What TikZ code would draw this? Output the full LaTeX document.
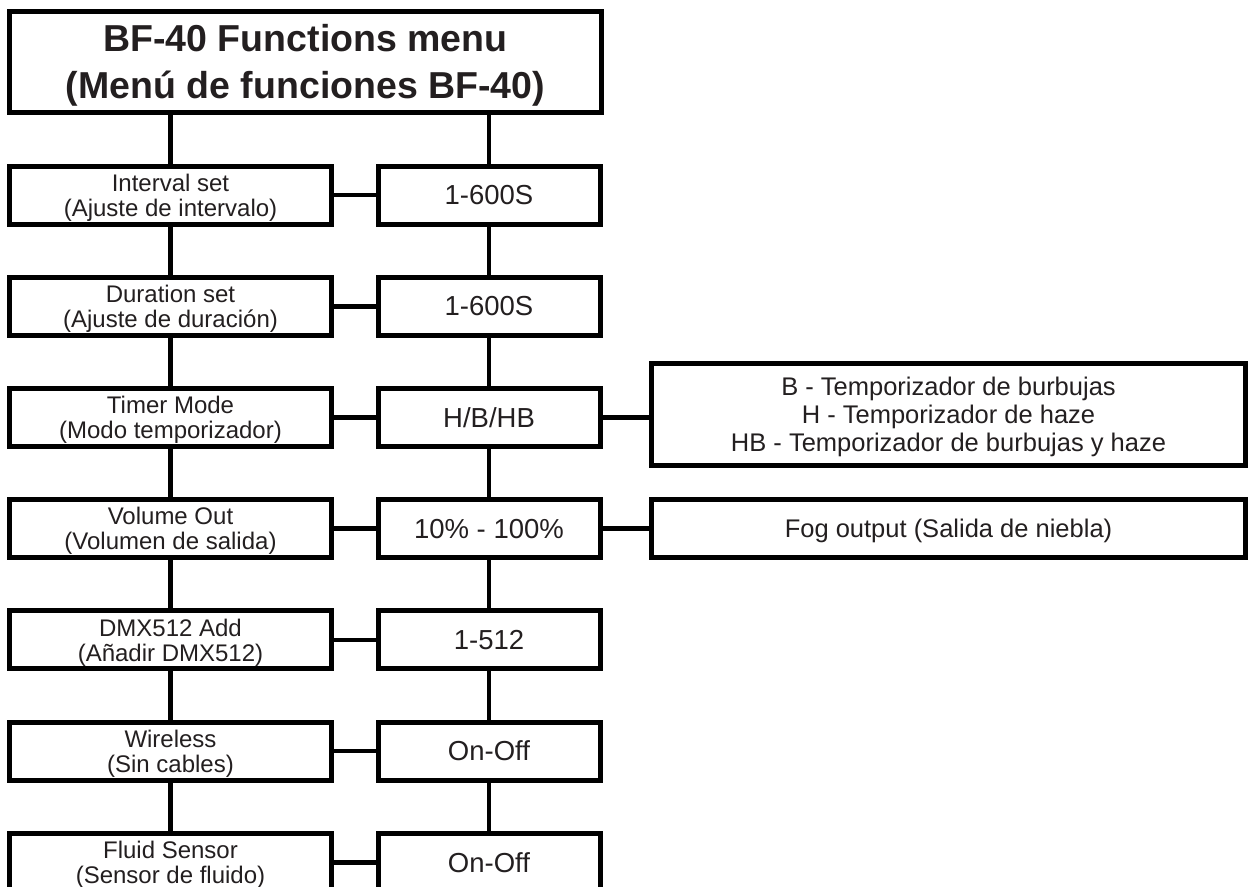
\documentclass[tikz,border=0pt]{standalone}
\usepackage{fontspec}
\setmainfont{Liberation Sans}
\definecolor{txt}{HTML}{231F20}
\begin{document}
\begin{tikzpicture}[x=1pt,y=-1pt,
  box/.style={draw=black,line width=5pt,fill=white,rectangle,inner sep=0pt,text=txt,align=center},
  titlebox/.style={box,minimum width=592pt,minimum height=101pt,text depth=2pt,font=\fontsize{37.5}{47}\selectfont\bfseries},
  leftbox/.style={box,minimum width=322pt,minimum height=58pt,text depth=-2pt,font=\fontsize{24}{25}\selectfont},
  rightbox/.style={box,minimum width=222pt,minimum height=58pt,text depth=0pt,font=\fontsize{27.5}{30}\selectfont},
  notebox/.style={box,minimum width=594pt,font=\fontsize{25.5}{28}\selectfont},
  conn/.style={draw=black,line width=4.6pt}]
\useasboundingbox (0,0) rectangle (1250,886);
\node[titlebox] (title) at (305.5,62) {BF-40 Functions menu\\(Menú de funciones BF-40)};
\node[leftbox] (l1) at (170.5,195) {Interval set\\(Ajuste de intervalo)};
\node[leftbox] (l2) at (170.5,306.2) {Duration set\\(Ajuste de duración)};
\node[leftbox] (l3) at (170.5,417.4) {Timer Mode\\(Modo temporizador)};
\node[leftbox] (l4) at (170.5,528.6) {Volume Out\\(Volumen de salida)};
\node[leftbox] (l5) at (170.5,639.8) {DMX512 Add\\(Añadir DMX512)};
\node[leftbox] (l6) at (170.5,751) {Wireless\\(Sin cables)};
\node[leftbox] (l7) at (170.5,862.2) {Fluid Sensor\\(Sensor de fluido)};
\node[rightbox] (r1) at (489,195) {1-600S};
\node[rightbox] (r2) at (489,306.2) {1-600S};
\node[rightbox] (r3) at (489,417.4) {H/B/HB};
\node[rightbox] (r4) at (489,528.6) {10\% - 100\%};
\node[rightbox] (r5) at (489,639.8) {1-512};
\node[rightbox] (r6) at (489,751) {On-Off};
\node[rightbox] (r7) at (489,862.2) {On-Off};
\node[notebox,minimum height=102pt,text depth=-2pt] (n3) at (948.5,414.5) {B - Temporizador de burbujas\\H - Temporizador de haze\\HB - Temporizador de burbujas y haze};
\node[notebox,minimum height=58pt,text depth=0pt] (n4) at (948.5,528.6) {Fog output (Salida de niebla)};
\draw[conn] (title.south -| l1) -- (l1.north);
\draw[conn] (title.south -| r1) -- (r1.north);
\foreach \a/\b in {1/2,2/3,3/4,4/5,5/6,6/7}{
  \draw[conn] (l\a.south) -- (l\b.north);
  \draw[conn] (r\a.south) -- (r\b.north);
}
\foreach \i in {1,...,7}{
  \draw[conn] (l\i.east) -- (r\i.west);
}
\draw[conn] (r3.east) -- (r3.east -| n3.west);
\draw[conn] (r4.east) -- (n4.west);
\end{tikzpicture}
\end{document}
